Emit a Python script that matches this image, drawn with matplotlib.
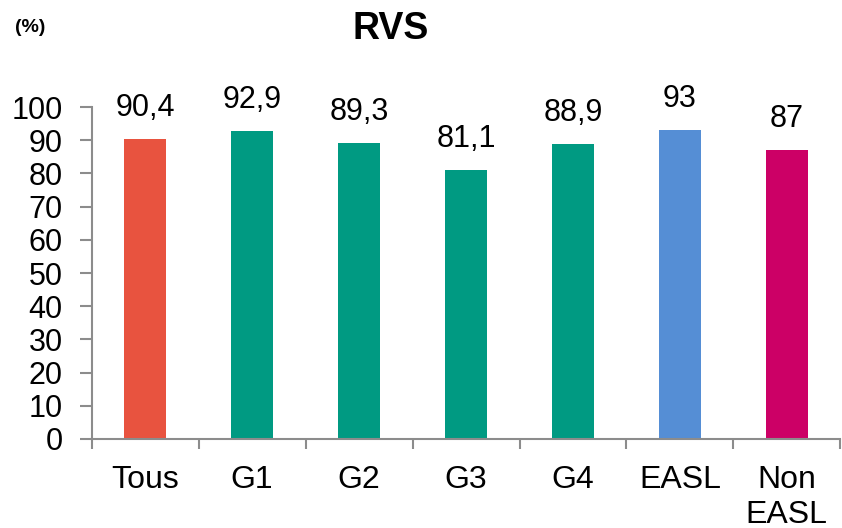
import matplotlib
matplotlib.use("Agg")
import matplotlib.pyplot as plt
import numpy as np

categories = ["Tous", "G1", "G2", "G3", "G4", "EASL", "Non\nEASL"]
values = [90.4, 92.9, 89.3, 81.1, 88.9, 93, 87]
value_labels = ["90,4", "92,9", "89,3", "81,1", "88,9", "93", "87"]
colors = ["#E8533F", "#009A82", "#009A82", "#009A82", "#009A82", "#558ED5", "#CC0066"]
yticks = [0, 10, 20, 30, 40, 50, 60, 70, 80, 90, 100]

plt.rcParams['font.family'] = ['Liberation Sans', 'DejaVu Sans']

fig = plt.figure(figsize=(8.42, 5.28), dpi=100)
ax = fig.add_axes([0.109, 0.1686, 0.889, 0.6287])

x = np.arange(len(categories))
bars = ax.bar(x, values, width=0.39, color=colors, zorder=2)
for xi, v, lab in zip(x, values, value_labels):
    ax.annotate(lab, (xi, v), xytext=(0, 16), textcoords="offset pixels",
                ha="center", va="bottom", fontsize=22, color="black")

ax.set_ylim(0, 100)
ax.set_xlim(-0.5, len(categories) - 0.5)
ax.set_yticks(yticks)
ax.set_yticklabels([str(t) for t in yticks], fontsize=22)

ax.set_xticks(np.arange(-0.5, len(categories), 1.0))
ax.set_xticklabels([])
ax.set_xticks(x, minor=True)
ax.set_xticklabels(categories, minor=True, fontsize=23, va="top", linespacing=1.2)
ax.tick_params(axis="x", which="minor", length=0, pad=19)
ax.tick_params(axis="x", which="major", length=7, width=1.5, color="#8C8C8C", direction="out")
ax.tick_params(axis="y", length=9, width=1.5, color="#8C8C8C", direction="out", pad=12)

for s in ["top", "right"]:
    ax.spines[s].set_visible(False)
for s in ["left", "bottom"]:
    ax.spines[s].set_color("#8C8C8C")
    ax.spines[s].set_linewidth(1.5)

fig.text(0.464, 0.945, "RVS", ha="center", va="center", fontsize=27, fontweight="bold")
fig.text(0.036, 0.947, "(%)", ha="center", va="center", fontsize=14, fontweight="bold")

fig.savefig("out.png", dpi=100)
